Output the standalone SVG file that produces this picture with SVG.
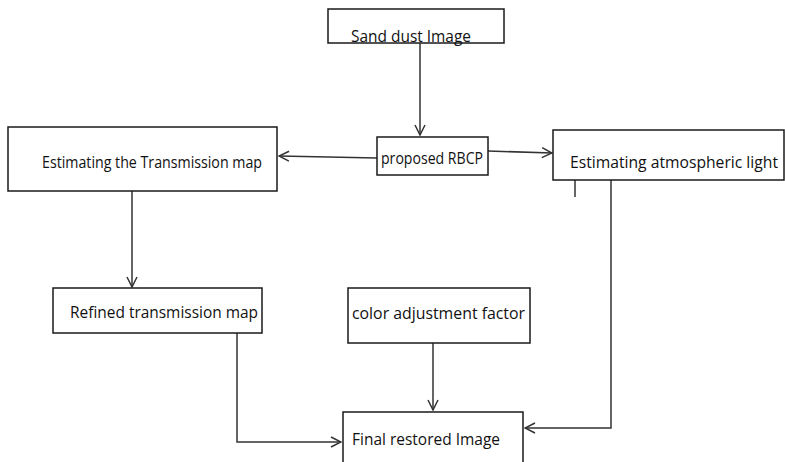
<svg xmlns="http://www.w3.org/2000/svg" width="785" height="462" viewBox="0 0 785 462">
<style>
rect{fill:#fff;stroke:#1a1a1a;stroke-width:1.5}
text{font-family:"Open Sans","Liberation Sans",sans-serif;font-size:16px;fill:#111}
.c{fill:none;stroke:#333;stroke-width:1.5}
</style>
<defs>
<marker id="a" viewBox="0 0 12 12" refX="11" refY="6" markerWidth="12" markerHeight="12" markerUnits="userSpaceOnUse" orient="auto">
<path d="M1 1 L11 6 L1 11" fill="none" stroke="#333" stroke-width="1.5"/>
</marker>
</defs>
<g id="connectors">
<path class="c" d="M420 43 V135" marker-end="url(#a)"/>
<path class="c" d="M377 158 L279 156" marker-end="url(#a)"/>
<path class="c" d="M488 151 L552 153" marker-end="url(#a)"/>
<path class="c" d="M132 191 V287" marker-end="url(#a)"/>
<path class="c" d="M237 333 V442 H341" marker-end="url(#a)"/>
<path class="c" d="M433 343 V410" marker-end="url(#a)"/>
<path class="c" d="M611 180 V428 H525" marker-end="url(#a)"/>
<path class="c" d="M575 180 V197"/>
</g>
<g id="sand"><rect x="328" y="9" width="176" height="34"/><text x="351" y="42" textLength="120" lengthAdjust="spacingAndGlyphs">Sand dust Image</text></g>
<g id="rbcp"><rect x="377" y="137" width="111" height="38"/><text x="381" y="164" textLength="102" lengthAdjust="spacingAndGlyphs">proposed RBCP</text></g>
<g id="trans"><rect x="8" y="127" width="269" height="64"/><text x="42" y="168" textLength="220" lengthAdjust="spacingAndGlyphs">Estimating the Transmission map</text></g>
<g id="atmos"><rect x="553" y="130" width="231" height="50"/><text x="570" y="168" textLength="208" lengthAdjust="spacingAndGlyphs">Estimating atmospheric light</text></g>
<g id="refined"><rect x="53" y="288" width="209" height="45"/><text x="70" y="318" textLength="188" lengthAdjust="spacingAndGlyphs">Refined transmission map</text></g>
<g id="color"><rect x="348" y="288" width="182" height="55"/><text x="352" y="319" textLength="173" lengthAdjust="spacingAndGlyphs">color adjustment factor</text></g>
<g id="final"><rect x="343" y="412" width="180" height="52"/><text x="352" y="445" textLength="148" lengthAdjust="spacingAndGlyphs">Final restored Image</text></g>
</svg>
